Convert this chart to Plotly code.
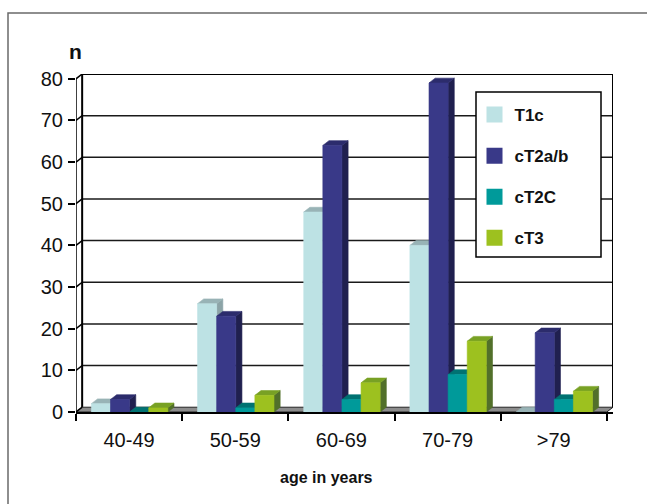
import plotly.graph_objects as go

# Patients per age group and clinical stage
categories = ["40-49", "50-59", "60-69", "70-79", ">79"]
series_names = ["T1c", "cT2a/b", "cT2C", "cT3"]
t1c = [2, 26, 48, 40, 0]
ct2ab = [3, 23, 64, 79, 19]
ct2c = [0, 1, 3, 9, 3]
ct3 = [1, 4, 7, 17, 5]
y_ticks = [0, 10, 20, 30, 40, 50, 60, 70, 80]

series_values = [t1c, ct2ab, ct2c, ct3]
front_colors = ["#BDE2E4", "#393988", "#009A9A", "#9DC11F"]
top_colors = ["#98B3B6", "#2C2C6C", "#007272", "#78A124"]
side_colors = ["#8CA4A7", "#20204F", "#005E5E", "#52702A"]

FONT = "Liberation Sans, Arial, sans-serif"
DX = 0.058   # depth of the 3-D box, in category units
DY = 1.15    # depth of the 3-D box, in value units
START = 0.145  # gap before the first bar of a group
W = 0.18       # bar width
N = len(categories)
YMAX = y_ticks[-1]

fig = go.Figure()


def poly(xs, ys, color, line_color=None, width=0.6):
    fig.add_trace(go.Scatter(
        x=list(xs) + [xs[0]], y=list(ys) + [ys[0]],
        mode="lines", fill="toself", fillcolor=color,
        line=dict(color=line_color or color, width=width),
        hoverinfo="skip", showlegend=False, cliponaxis=False,
    ))


def seg(xs, ys, color="#111111", width=1.5):
    fig.add_trace(go.Scatter(
        x=xs, y=ys, mode="lines", line=dict(color=color, width=width),
        hoverinfo="skip", showlegend=False, cliponaxis=False,
    ))


# back wall gridlines
gx, gy = [], []
for v in y_ticks[1:-1]:
    gx += [DX, N + DX, None]
    gy += [v + DY, v + DY, None]
seg(gx, gy, "#1a1a1a", 1.5)

# back wall outline
seg([DX, DX, N + DX, N + DX], [DY, YMAX + DY, YMAX + DY, DY], "#000000", 2)

# floor
poly([0, N, N + DX, DX], [0, 0, DY, DY], "#8C8C8C", "#222222", 1)

# front value axis and its connectors to the wall
dx_, dy_ = [0, 0, None], [0, YMAX, None]
for v in y_ticks:
    dx_ += [0, DX, None]
    dy_ += [v, v + DY, None]
seg(dx_, dy_, "#000000", 1.5)

# 3-D bars, drawn left to right so each front face hides its neighbour's side
for i in range(N):
    for j, vals in enumerate(series_values):
        v = vals[i]
        x0 = i + START + j * W
        x1 = x0 + W
        poly([x1, x1 + DX, x1 + DX, x1], [0, DY, v + DY, v], side_colors[j])
        poly([x0, x1, x1 + DX, x0 + DX], [v, v, v + DY, v + DY], top_colors[j])
        if v > 0:
            poly([x0, x1, x1, x0], [0, 0, v, v], front_colors[j])

# legend entries
for j, name in enumerate(series_names):
    fig.add_trace(go.Scatter(
        x=[None], y=[None], mode="markers", name=name, legendgroup=name,
        marker=dict(symbol="square", size=16, color=front_colors[j]),
    ))

# plot area in pixels: x 76..613, y 74..412
L, R, T, B = 76, 613, 74, 412
PW, PH = R - L, B - T


def px(xp):
    return (xp - L) / PW


def py(yp):
    return (B - yp) / PH


fig.update_layout(
    width=647, height=504,
    margin=dict(l=L, r=647 - R, t=T, b=504 - B, pad=0),
    paper_bgcolor="white", plot_bgcolor="white",
    font=dict(family=FONT, color="#111111"),
    showlegend=True,
    legend=dict(
        x=px(474.5), y=py(97), xanchor="left", yanchor="top",
        bgcolor="rgba(0,0,0,0)", borderwidth=0,
        font=dict(size=17, family=FONT, color="#111111", weight="bold"),
        tracegroupgap=16, traceorder="grouped",
    ),
    xaxis=dict(
        range=[0, N + DX], showgrid=False, zeroline=False,
        tickmode="array", tickvals=[i + 0.5 for i in range(N)],
        ticktext=categories, ticks="",
        tickfont=dict(size=20, family=FONT, color="#111111"),
        ticklabelstandoff=9,
        showline=True, linecolor="#000000", linewidth=1.5,
        minor=dict(ticks="outside", ticklen=7, tickwidth=1.5,
                   tickcolor="#000000", tick0=0, dtick=1, showgrid=False),
        fixedrange=True,
    ),
    yaxis=dict(
        range=[0, YMAX + DY], showgrid=False, zeroline=False,
        tickmode="array", tickvals=y_ticks,
        ticks="outside", ticklen=7, tickwidth=1.5, tickcolor="#000000",
        tickfont=dict(size=20, family=FONT, color="#111111"),
        ticklabelstandoff=1, showline=False, fixedrange=True,
    ),
    shapes=[
        # outer frame
        dict(type="rect", xref="paper", yref="paper",
             x0=px(8), x1=px(700), y0=py(560), y1=py(13),
             line=dict(color="#6a6a6a", width=1.5), layer="below"),
        # legend box
        dict(type="rect", xref="paper", yref="paper",
             x0=px(476), x1=px(601), y0=py(257), y1=py(92),
             fillcolor="white", line=dict(color="#000000", width=1.5),
             layer="above"),
    ],
    annotations=[
        dict(text="<b>n</b>", xref="paper", yref="paper", x=px(75), y=py(52),
             xanchor="center", yanchor="middle", showarrow=False,
             font=dict(size=21, family=FONT, color="#111111")),
        dict(text="<b>age in years</b>", xref="paper", yref="paper",
             x=px(326), y=py(477), xanchor="center", yanchor="middle",
             showarrow=False, font=dict(size=16, family=FONT, color="#111111")),
    ],
)

fig.write_html("out.html")
